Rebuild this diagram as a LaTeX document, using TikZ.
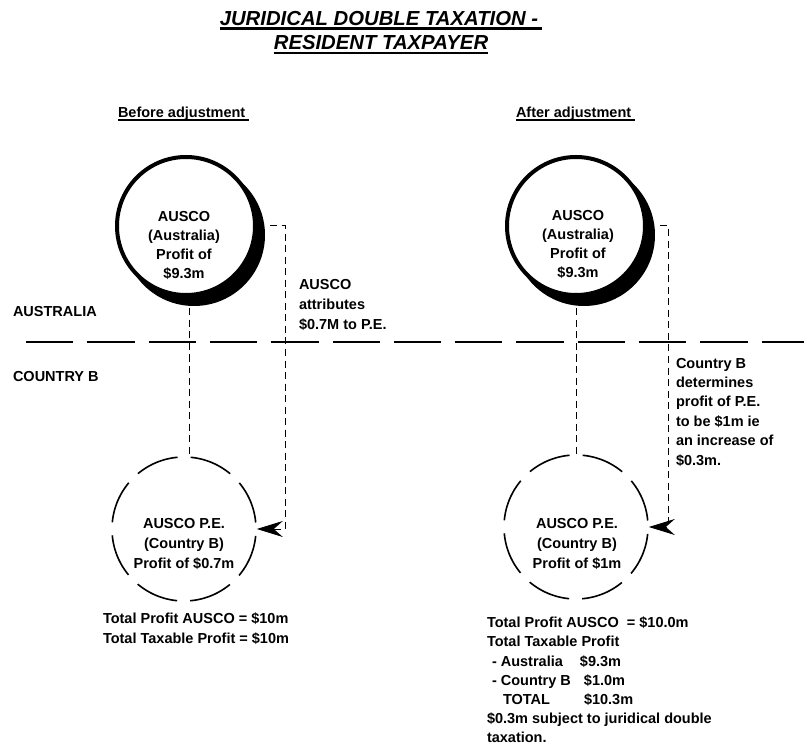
\documentclass[tikz,border=0pt]{standalone}
\usepackage{fontspec}
\setmainfont{Liberation Sans}
\usetikzlibrary{arrows.meta,backgrounds,calc}
\begin{document}
\begin{tikzpicture}[x=1pt,y=-1pt,
  lbl/.style={font=\bfseries\fontsize{14.5}{19.2}\selectfont, inner sep=0pt, outer sep=0pt},
  ttl/.style={font=\bfseries\itshape\fontsize{20.3}{24}\selectfont, inner sep=0pt, outer sep=0pt},
  ulineT/.style={line width=2.6pt},
  ulineS/.style={line width=2pt},
  bigcirc/.style={circle, draw=black, fill=white, line width=4pt, minimum size=138pt, inner sep=0pt},
  shadowc/.style={circle, fill=black, minimum size=142pt, inner sep=0pt},
  pecirc/.style={circle, draw=black, line width=1.6pt, minimum size=144pt, inner sep=0pt,
     dash pattern=on 43.5pt off 13pt, dash phase=50pt},
  vdash/.style={line width=1pt, dash pattern=on 7pt off 4.5pt},
  cdash/.style={line width=1pt, dash pattern=on 7pt off 4.5pt},
  hdash/.style={line width=1.3pt, dash pattern=on 47.3pt off 14pt},
  arr/.style={-{Stealth[length=26pt,width=16pt,inset=9pt]}}
]
\useasboundingbox (0,0) rectangle (804,746);

% title
\node[ttl, anchor=north] (t1) at (379,11) {JURIDICAL DOUBLE TAXATION -};
\node[ttl, anchor=north] (t2) at (381,35) {RESIDENT TAXPAYER};
\draw[ulineT] ([yshift=-3pt]t1.south west) -- ([xshift=4pt,yshift=-3pt]t1.south east);
\draw[ulineT] ([yshift=-3.5pt]t2.south west) -- ([yshift=-3.5pt]t2.south east);

% subtitles
\node[lbl, anchor=north west] (bef) at (118,107) {Before adjustment};
\node[lbl, anchor=north west] (aft) at (516,107) {After adjustment};
\draw[ulineS] ([yshift=-2.5pt]bef.base west) -- ([xshift=4pt,yshift=-2.5pt]bef.base east);
\draw[ulineS] ([yshift=-2.5pt]aft.base west) -- ([xshift=4pt,yshift=-2.5pt]aft.base east);

% region labels
\node[lbl, anchor=north west] (aus) at (13,306) {AUSTRALIA};
\node[lbl, anchor=north west] (cb) at (13,371) {COUNTRY B};

% divider
\coordinate (dl) at (26,342);
\coordinate (dr) at (804,342);
\draw[hdash] (dl) -- (dr);

% top circles
\node[shadowc] (topLs) at (194,235) {};
\node[bigcirc] (topL) at (186,226) {};
\node[shadowc] (topRs) at (584,235) {};
\node[bigcirc] (topR) at (576,226) {};
\node[lbl, anchor=north, align=center] (topLt) at (184,211) {AUSCO\\(Australia)\\Profit of\\\$9.3m};
\node[lbl, anchor=north, align=center] (topRt) at (578,210) {AUSCO\\(Australia)\\Profit of\\\$9.3m};

% bottom circles
\node[pecirc] (botL) at (184,529) {};
\node[pecirc] (botR) at (576,527) {};
\node[lbl, anchor=north, align=center, font=\bfseries\fontsize{14.5}{20}\selectfont] (botLt) at (184,518) {AUSCO P.E.\\(Country B)\\Profit of \$0.7m};
\node[lbl, anchor=north, align=center, font=\bfseries\fontsize{14.5}{20}\selectfont] (botRt) at (577,518) {AUSCO P.E.\\(Country B)\\Profit of \$1m};

% connectors
\begin{pgfonlayer}{background}
\draw[vdash] ([xshift=3pt]topL.south) -- ([xshift=5pt]botL.north);
\draw[vdash] (topR.south) -- (botR.north);
\end{pgfonlayer}
\draw[cdash, arr] ([xshift=13pt]topL.east) -- ++(15,0) |- (botL.east);
\draw[cdash, arr] ([xshift=13pt]topR.east) -- ++(8,0) |- (botR.east);

% side notes
\node[lbl, anchor=north west, align=left, font=\bfseries\fontsize{14.5}{20}\selectfont] (note1) at (299,279) {AUSCO\\attributes\\\$0.7M to P.E.};
\node[lbl, anchor=north west, align=left, font=\bfseries\fontsize{14.5}{19.4}\selectfont] (note2) at (676,358) {Country B\\determines\\profit of P.E.\\to be \$1m ie\\an increase of\\\$0.3m.};

% totals
\node[lbl, anchor=north west, align=left, font=\bfseries\fontsize{14.5}{20}\selectfont] (totL) at (103,613) {Total Profit AUSCO = \$10m\\Total Taxable Profit = \$10m};
\node[lbl, anchor=north west, align=left] (totR) at (487,617) {Total Profit AUSCO\ \ = \$10.0m\\Total Taxable Profit\\\makebox[93pt][l]{\hspace{5pt}- Australia}\$9.3m\\\makebox[97pt][l]{\hspace{5pt}- Country B}\$1.0m\\\makebox[97pt][l]{\hspace{16pt}TOTAL}\$10.3m\\\$0.3m subject to juridical double\\taxation.};
\end{tikzpicture}
\end{document}
